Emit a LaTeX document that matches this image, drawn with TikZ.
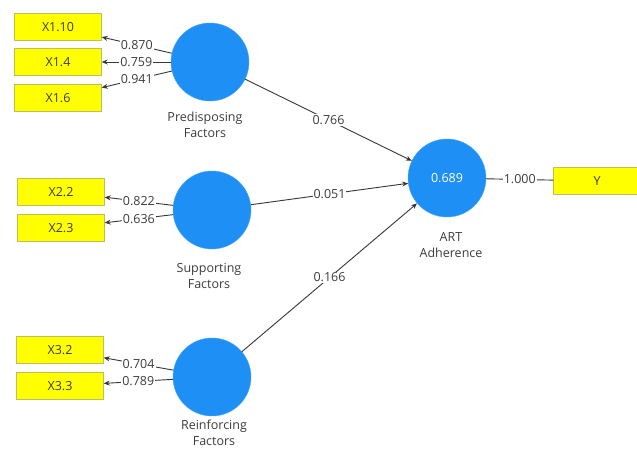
\documentclass[tikz,border=0pt]{standalone}
\usepackage{fontspec}
\setmainfont{Open Sans}
\usetikzlibrary{arrows.meta}
\definecolor{lvblue}{RGB}{30,144,245}
\definecolor{mvyellow}{RGB}{255,255,0}
\definecolor{mvborder}{RGB}{190,190,90}
\definecolor{edgegray}{RGB}{55,55,55}
\definecolor{txtgray}{RGB}{60,60,60}
\begin{document}
\begin{tikzpicture}
[x=1pt,y=-1pt,>={Stealth[length=6pt,width=5pt]},
 every node/.style={font=\fontsize{12.5}{16}\selectfont,text=txtgray},
 lv/.style={circle,fill=lvblue,draw=lvblue!80!white,minimum size=78pt,inner sep=0pt},
 mv/.style={rectangle,fill=mvyellow,draw=mvborder,minimum width=87pt,minimum height=27pt,inner sep=0pt},
 lvname/.style={align=center},
 coef/.style={fill=white,inner sep=1pt},
 link/.style={edgegray,line width=0.9pt}]
  \useasboundingbox (0,0) rectangle (637,450);
  \fill[white] (0,0) rectangle (637,450);
  % latent variables
  \node[lv] (pf) at (210,62) {};
  \node[lv] (sf) at (212,210) {};
  \node[lv] (rf) at (212,377) {};
  \node[lv] (art) at (447,178) {\textcolor{white}{0.689}};
  \node[lvname] (pfname) at (205,125) {Predisposing\\Factors};
  \node[lvname] (sfname) at (209,276) {Supporting\\Factors};
  \node[lvname] (rfname) at (214,433) {Reinforcing\\Factors};
  \node[lvname] (artname) at (451,245) {ART\\Adherence};
  % indicators
  \node[mv] (x110) at (58,27) {X1.10};
  \node[mv] (x14) at (58,62) {X1.4};
  \node[mv] (x16) at (58,98) {X1.6};
  \node[mv] (x22) at (61,192) {X2.2};
  \node[mv] (x23) at (61,228) {X2.3};
  \node[mv] (x32) at (60,350) {X3.2};
  \node[mv] (x33) at (60,386) {X3.3};
  \node[mv] (y) at (597,181) {Y};
  % outer loadings
  \foreach \from/\to/\val in {pf/x110/0.870, pf/x14/0.759, pf/x16/0.941,
      sf/x22/0.822, sf/x23/0.636, rf/x32/0.704, rf/x33/0.789}
    \draw[->,link] (\from) -- node[coef] {\val} (\to);
  \draw[link] (art) -- node[coef] {1.000} (y);
  % path coefficients
  \foreach \from/\val in {pf/0.766, sf/0.051, rf/0.166}
    \draw[->,link] (\from) -- node[coef] {\val} (art);

\end{tikzpicture}
\end{document}
